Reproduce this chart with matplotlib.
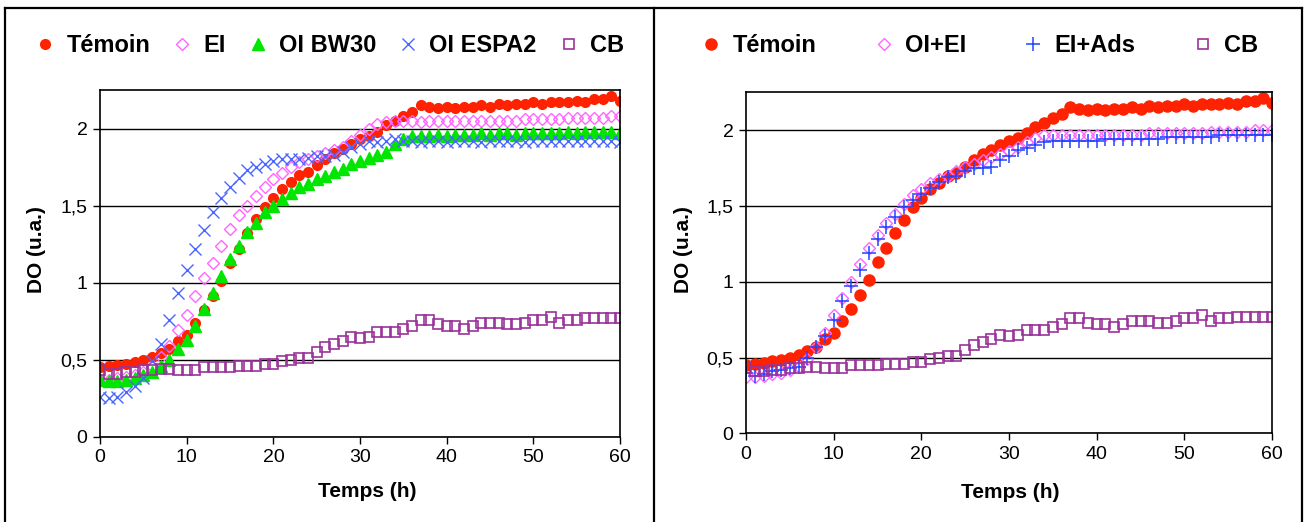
import numpy as np
import matplotlib
matplotlib.use("Agg")
import matplotlib.pyplot as plt
from matplotlib.lines import Line2D
from matplotlib.ticker import FuncFormatter

plt.rcParams['font.family'] = ['Liberation Sans', 'DejaVu Sans']

# time axis (h)
temps = np.arange(61)

# shared series
temoin = [0.45, 0.46, 0.465, 0.475, 0.485, 0.50, 0.515, 0.54, 0.57, 0.62,
          0.66, 0.74, 0.82, 0.91, 1.01, 1.13, 1.22, 1.32, 1.41, 1.49,
          1.55, 1.61, 1.65, 1.70, 1.72, 1.76, 1.80, 1.84, 1.87, 1.90,
          1.93, 1.95, 1.98, 2.02, 2.05, 2.08, 2.11, 2.15, 2.14, 2.13,
          2.14, 2.13, 2.14, 2.14, 2.15, 2.14, 2.16, 2.15, 2.16, 2.16,
          2.17, 2.16, 2.17, 2.17, 2.17, 2.18, 2.17, 2.19, 2.19, 2.21, 2.18]
cb = [0.43, 0.41, 0.41, 0.42, 0.42, 0.43, 0.43, 0.44, 0.44, 0.43,
      0.43, 0.43, 0.45, 0.45, 0.45, 0.45, 0.46, 0.46, 0.46, 0.47,
      0.47, 0.49, 0.50, 0.51, 0.51, 0.55, 0.58, 0.60, 0.62, 0.65,
      0.64, 0.65, 0.68, 0.68, 0.68, 0.70, 0.72, 0.76, 0.76, 0.73,
      0.72, 0.72, 0.70, 0.72, 0.74, 0.74, 0.74, 0.73, 0.73, 0.74,
      0.76, 0.76, 0.78, 0.74, 0.76, 0.76, 0.77, 0.77, 0.77, 0.77, 0.77]

# left panel
ei = [0.37, 0.37, 0.38, 0.39, 0.40, 0.42, 0.46, 0.52, 0.59, 0.69,
      0.79, 0.91, 1.03, 1.13, 1.24, 1.35, 1.44, 1.50, 1.56, 1.62,
      1.67, 1.71, 1.75, 1.78, 1.80, 1.82, 1.84, 1.86, 1.88, 1.92,
      1.96, 2.00, 2.03, 2.04, 2.05, 2.05, 2.05, 2.04, 2.05, 2.05,
      2.05, 2.05, 2.05, 2.05, 2.05, 2.05, 2.05, 2.05, 2.05, 2.06,
      2.06, 2.06, 2.06, 2.06, 2.07, 2.07, 2.07, 2.07, 2.07, 2.08, 2.08]
oi_bw30 = [0.37, 0.36, 0.36, 0.37, 0.38, 0.40, 0.42, 0.46, 0.50, 0.57,
           0.63, 0.72, 0.83, 0.93, 1.04, 1.15, 1.24, 1.33, 1.39, 1.46,
           1.50, 1.54, 1.58, 1.62, 1.64, 1.67, 1.69, 1.72, 1.74, 1.77,
           1.79, 1.81, 1.83, 1.85, 1.90, 1.93, 1.95, 1.95, 1.95, 1.96,
           1.95, 1.96, 1.96, 1.96, 1.97, 1.96, 1.97, 1.97, 1.96, 1.97,
           1.97, 1.97, 1.97, 1.97, 1.98, 1.97, 1.98, 1.98, 1.98, 1.98, 1.97]
oi_espa2 = [0.26, 0.25, 0.26, 0.29, 0.33, 0.38, 0.49, 0.60, 0.76, 0.93,
            1.08, 1.22, 1.34, 1.46, 1.55, 1.62, 1.68, 1.73, 1.75, 1.77,
            1.79, 1.80, 1.80, 1.80, 1.81, 1.82, 1.82, 1.83, 1.85, 1.88,
            1.90, 1.92, 1.91, 1.92, 1.93, 1.92, 1.92, 1.91, 1.92, 1.92,
            1.91, 1.92, 1.92, 1.92, 1.91, 1.92, 1.92, 1.92, 1.92, 1.91,
            1.92, 1.92, 1.92, 1.92, 1.92, 1.92, 1.92, 1.92, 1.92, 1.92, 1.91]

# right panel
oi_ei = [0.37, 0.37, 0.38, 0.39, 0.40, 0.42, 0.44, 0.49, 0.57, 0.66,
         0.78, 0.89, 1.00, 1.12, 1.22, 1.31, 1.39, 1.45, 1.51, 1.57,
         1.61, 1.65, 1.68, 1.70, 1.73, 1.76, 1.78, 1.80, 1.82, 1.84,
         1.86, 1.89, 1.92, 1.95, 1.97, 1.97, 1.97, 1.97, 1.97, 1.97,
         1.97, 1.97, 1.97, 1.97, 1.97, 1.97, 1.98, 1.98, 1.98, 1.98,
         1.98, 1.98, 1.98, 1.99, 1.99, 1.99, 1.99, 1.99, 2.00, 2.00, 2.00]
ei_ads = [0.40, 0.38, 0.39, 0.41, 0.42, 0.43, 0.44, 0.50, 0.57, 0.64,
          0.75, 0.87, 0.97, 1.08, 1.19, 1.28, 1.36, 1.43, 1.49, 1.54,
          1.58, 1.62, 1.66, 1.69, 1.70, 1.73, 1.75, 1.75, 1.76, 1.80,
          1.83, 1.87, 1.88, 1.90, 1.92, 1.93, 1.93, 1.93, 1.93, 1.93,
          1.93, 1.945, 1.945, 1.945, 1.945, 1.945, 1.945, 1.945, 1.955, 1.955,
          1.955, 1.955, 1.955, 1.955, 1.97, 1.97, 1.97, 1.97, 1.97, 1.97, 1.97]

RED = '#ff2200'
PINK = '#ff66ff'
GREEN = '#00e600'
BLUE_X = '#4a66ff'
BLUE_P = '#2244ff'
PURPLE = '#993399'

fig = plt.figure(figsize=(13.06, 5.22), dpi=100)
axl = fig.add_axes([0.0766, 0.1634, 0.3982, 0.6642])
axr = fig.add_axes([0.5712, 0.1699, 0.4028, 0.6533])

# left panel
axl.plot(temps, temoin, 'o', ms=7, color=RED, mec=RED, label='Témoin')
axl.plot(temps, ei, 'D', ms=6.5, mfc='none', mec=PINK, mew=1, label='EI')
axl.plot(temps, oi_bw30, '^', ms=9, color=GREEN, mec=GREEN, label='OI BW30')
axl.plot(temps, oi_espa2, 'x', ms=9, mec=BLUE_X, mew=1, label='OI ESPA2')
axl.plot(temps, cb, 's', ms=7, mfc='none', mec=PURPLE, mew=1.2, label='CB')

# right panel
axr.plot(temps, temoin, 'o', ms=8, color=RED, mec=RED, label='Témoin')
axr.plot(temps, oi_ei, 'D', ms=6.5, mfc='none', mec=PINK, mew=1, label='OI+EI')
axr.plot(temps, ei_ads, '+', ms=10, mec=BLUE_P, mew=1.1, label='EI+Ads')
axr.plot(temps, cb, 's', ms=7, mfc='none', mec=PURPLE, mew=1.2, label='CB')

fmt = FuncFormatter(lambda v, p: f'{v:g}'.replace('.', ','))

for ax in (axl, axr):
    ax.set_xlim(0, 60)
    ax.set_ylim(0, 2.25)
    ax.set_xticks(range(0, 61, 10))
    ax.set_yticks([0, 0.5, 1, 1.5, 2])
    ax.yaxis.set_major_formatter(fmt)
    ax.grid(axis='y', color='black', lw=1)
    ax.set_axisbelow(True)
    for s in ax.spines.values():
        s.set_linewidth(1.2)
    ax.tick_params(direction='out', length=5, width=1, labelsize=14, pad=4)
    ax.set_xlabel('Temps (h)', fontsize=15, fontweight='bold')
    ax.set_ylabel('DO (u.a.)', fontsize=15, fontweight='bold')

axl.xaxis.set_label_coords(0.513, -0.13)
axr.xaxis.set_label_coords(0.502, -0.145)
axl.yaxis.set_label_coords(-0.103, 0.54)
axr.yaxis.set_label_coords(-0.1, 0.54)

axl.legend(loc='center', bbox_to_anchor=(0.442, 1.127), ncol=5, frameon=False,
           prop={'weight': 'bold', 'size': 17}, handlelength=0.8,
           handletextpad=0.5, columnspacing=0.95)
axr.legend(loc='center', bbox_to_anchor=(0.445, 1.136), ncol=4, frameon=False,
           prop={'weight': 'bold', 'size': 17}, handlelength=0.8,
           handletextpad=0.5, columnspacing=2.45)

# panel frames
for xs, ys in [([0.004, 0.004], [0, 0.985]), ([0.004, 0.997], [0.985, 0.985]),
               ([0.5004, 0.5004], [0, 0.985]), ([0.997, 0.997], [0, 0.985])]:
    fig.add_artist(Line2D(xs, ys, color='black', lw=1.6))

fig.savefig('out.png', dpi=100)
